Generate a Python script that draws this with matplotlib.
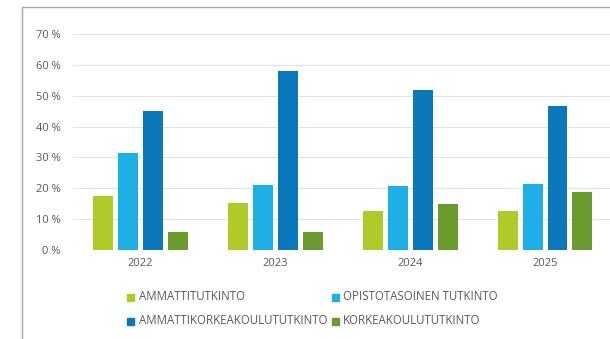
import matplotlib.pyplot as plt
import matplotlib.patches as mpatches
import numpy as np

plt.rcParams['font.family'] = ['Open Sans', 'DejaVu Sans']

# Tutkintojen osuudet vuosittain (%)
vuodet = ['2022', '2023', '2024', '2025']
sarjat = ['AMMATTITUTKINTO', 'OPISTOTASOINEN TUTKINTO',
          'AMMATTIKORKEAKOULUTUTKINTO', 'KORKEAKOULUTUTKINTO']
ammattitutkinto = [17.5, 15.2, 12.6, 12.6]
opistotaso = [31.5, 21.0, 20.8, 21.4]
amk = [45.1, 58.1, 52.0, 46.8]
korkeakoulu = [5.8, 5.8, 14.8, 18.8]
arvot = [ammattitutkinto, opistotaso, amk, korkeakoulu]
varit = ['#AECB2A', '#1DAFE6', '#0B78BC', '#6A9B2C']

fig = plt.figure(figsize=(6.1, 3.39), dpi=100)
ax = fig.add_axes([0.12, 0.2625, 0.884, 0.637])

x = np.arange(len(vuodet))
leveys = 0.148
askel = 0.185
for i, (data, vari) in enumerate(zip(arvot, varit)):
    ax.bar(x + (i - 1.5) * askel, data, leveys, color=vari, zorder=3)

ax.set_ylim(0, 70)
ax.set_xlim(-0.5, 3.5)
ax.set_yticks(range(0, 71, 10))
ax.set_yticklabels([f'{v} %' for v in range(0, 71, 10)])
ax.set_xticks(x)
ax.set_xticklabels(vuodet)
ax.tick_params(length=0, labelsize=8, colors='#595959', pad=6)
ax.tick_params(axis='y', pad=9)
ax.grid(axis='y', color='#E3E3E3', lw=0.8, zorder=0)
for s in ax.spines.values():
    s.set_visible(False)

# selite kahdessa rivissä
paikat = [(131, 297), (335, 297), (131, 321), (335, 321)]
for nimi, vari, (px, py) in zip(sarjat, varit, paikat):
    fx, fy = px / 610, 1 - py / 339
    fig.patches.append(mpatches.Rectangle((fx - 3.5 / 610, fy - 3.5 / 339), 7 / 610, 7 / 339,
                                          transform=fig.transFigure, color=vari))
    fig.text(fx + 8 / 610, fy, nimi, fontsize=8.3, color='#595959', va='center', ha='left')

# kehys
fig.patches.append(mpatches.Rectangle((22 / 610, -0.1), 1.1, 1 - 7 / 339 + 0.1,
                                      transform=fig.transFigure, fill=False,
                                      edgecolor='#A6A6A6', lw=1))

fig.savefig('out.png', dpi=100)
